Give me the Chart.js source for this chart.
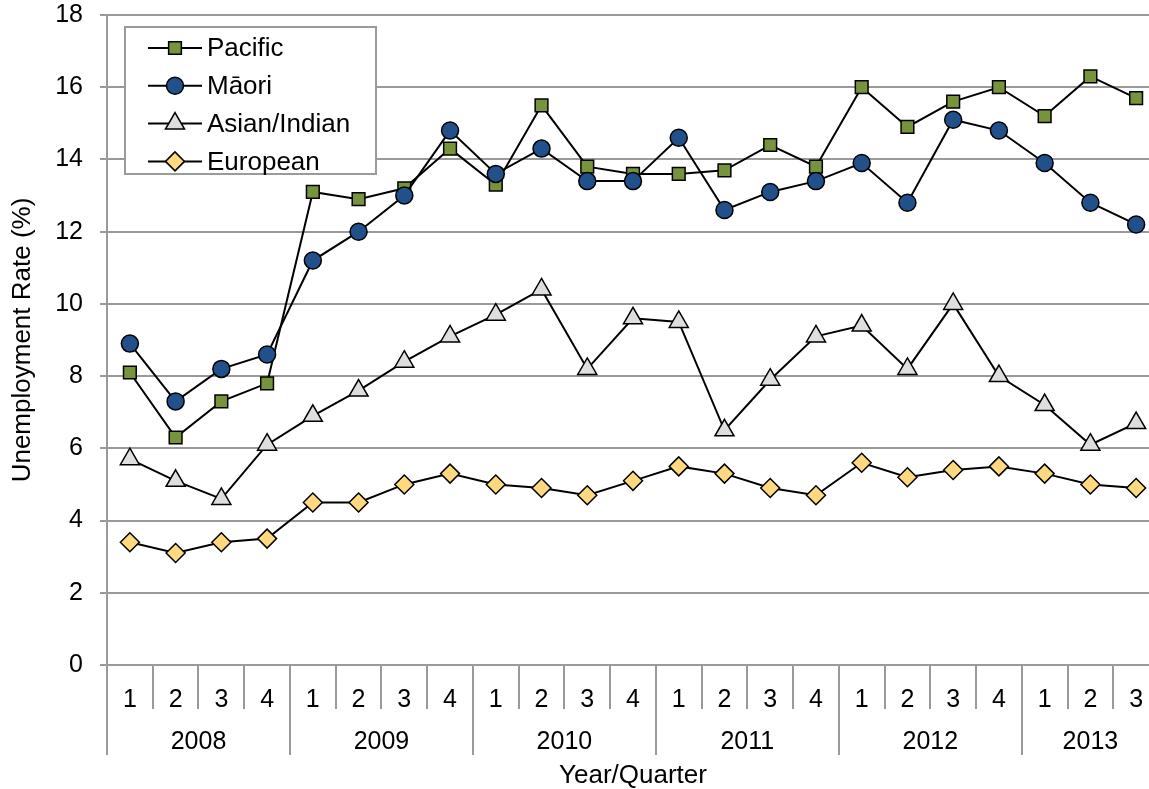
<!DOCTYPE html>
<html>
<head>
<meta charset="utf-8">
<script src="https://cdn.jsdelivr.net/npm/chart.js@4/dist/chart.umd.min.js"></script>
<style>
  html, body { margin: 0; padding: 0; background: #fff; overflow: hidden; }
  #wrap { width: 1162px; height: 789px; }
</style>
</head>
<body>
<div id="wrap"><canvas id="unemploymentChart" width="1162" height="789"></canvas></div>
<script>
// Quarter labels and the year groups they belong to
const quarters = ['1', '2', '3', '4', '1', '2', '3', '4', '1', '2', '3', '4',
                  '1', '2', '3', '4', '1', '2', '3', '4', '1', '2', '3'];
const years = ['2008', '2009', '2010', '2011', '2012', '2013'];
const quartersPerYear = [4, 4, 4, 4, 4, 3];

// Unemployment rate (%) by ethnic group
const pacific = [8.1, 6.3, 7.3, 7.8, 13.1, 12.9, 13.2, 14.3, 13.3, 15.5, 13.8, 13.6,
                 13.6, 13.7, 14.4, 13.8, 16.0, 14.9, 15.6, 16.0, 15.2, 16.3, 15.7];
const maori = [8.9, 7.3, 8.2, 8.6, 11.2, 12.0, 13.0, 14.8, 13.6, 14.3, 13.4, 13.4,
               14.6, 12.6, 13.1, 13.4, 13.9, 12.8, 15.1, 14.8, 13.9, 12.8, 12.2];
const asianIndian = [5.7, 5.1, 4.6, 6.1, 6.9, 7.6, 8.4, 9.1, 9.7, 10.4, 8.2, 9.6,
                     9.5, 6.5, 7.9, 9.1, 9.4, 8.2, 10.0, 8.0, 7.2, 6.1, 6.7];
const european = [3.4, 3.1, 3.4, 3.5, 4.5, 4.5, 5.0, 5.3, 5.0, 4.9, 4.7, 5.1,
                  5.5, 5.3, 4.9, 4.7, 5.6, 5.2, 5.4, 5.5, 5.3, 5.0, 4.9];

const FONT = "'Liberation Sans', Arial, sans-serif";
const GRID = '#9a9a9a';

Chart.defaults.font.family = FONT;
Chart.defaults.font.size = 25;
Chart.defaults.color = '#000';

function series(label, data, style, radius, fill, order) {
    return {
        label: label,
        data: data,
        borderColor: '#000',
        borderWidth: 2,
        pointStyle: style,
        pointRadius: radius,
        pointHoverRadius: radius,
        pointBackgroundColor: fill,
        pointBorderColor: '#000',
        pointBorderWidth: 1.5,
        tension: 0,
        fill: false,
        order: order
    };
}

// Year row under the quarter labels, plus the boxed legend
const yearGroups = {
    id: 'yearGroups',
    afterDraw(chart) {
        const ctx = chart.ctx;
        const x = chart.scales.x;
        const half = (x.getPixelForValue(1) - x.getPixelForValue(0)) / 2;
        const top = chart.chartArea.bottom;
        ctx.save();
        ctx.strokeStyle = GRID;
        ctx.lineWidth = 2;
        ctx.fillStyle = '#000';
        ctx.font = '25px ' + FONT;
        ctx.textAlign = 'center';
        ctx.textBaseline = 'middle';
        let start = 0;
        years.forEach((yr, i) => {
            const n = quartersPerYear[i];
            const left = x.getPixelForValue(start) - half;
            const right = x.getPixelForValue(start + n - 1) + half;
            ctx.beginPath();
            ctx.moveTo(Math.round(left), top);
            ctx.lineTo(Math.round(left), top + 90);
            ctx.stroke();
            ctx.fillText(yr, (left + right) / 2, top + 77);
            start += n;
        });
        ctx.restore();
    }
};

const legendBox = {
    id: 'legendBox',
    afterDraw(chart) {
        const ctx = chart.ctx;
        const area = chart.chartArea;
        const bx = area.left + 18, by = area.top + 12, bw = 251, bh = 147;
        ctx.save();
        ctx.fillStyle = '#fff';
        ctx.fillRect(bx, by, bw, bh);
        ctx.strokeStyle = GRID;
        ctx.lineWidth = 2;
        ctx.strokeRect(bx, by, bw, bh);
        ctx.font = '26px ' + FONT;
        ctx.textBaseline = 'middle';
        ctx.textAlign = 'left';
        chart.data.datasets.forEach((ds, i) => {
            const y = by + 21 + i * 37.8;
            ctx.strokeStyle = '#000';
            ctx.lineWidth = 2;
            ctx.beginPath();
            ctx.moveTo(bx + 23, y);
            ctx.lineTo(bx + 77, y);
            ctx.stroke();
            ctx.fillStyle = ds.pointBackgroundColor;
            ctx.strokeStyle = ds.pointBorderColor;
            ctx.lineWidth = ds.pointBorderWidth;
            Chart.helpers.drawPoint(ctx, {
                pointStyle: ds.pointStyle,
                radius: ds.pointRadius,
                borderWidth: ds.pointBorderWidth,
                rotation: 0
            }, bx + 50, y);
            ctx.fillStyle = '#000';
            ctx.fillText(ds.label, bx + 82, y + 1);
        });
        ctx.restore();
    }
};

const ctx = document.getElementById('unemploymentChart').getContext('2d');
const unemploymentChart = new Chart(ctx, {
    type: 'line',
    data: {
        labels: quarters,
        datasets: [
            series('Pacific', pacific, 'rect', 9, '#77933c', 4),
            series('Māori', maori, 'circle', 8.5, '#21508a', 3),
            series('Asian/Indian', asianIndian, 'triangle', 11, '#dfdedc', 2),
            series('European', european, 'rectRot', 9.5, '#ffd880', 1)
        ]
    },
    options: {
        responsive: false,
        animation: false,
        devicePixelRatio: 1,
        layout: { autoPadding: false, padding: { top: 0, right: 3, left: 0, bottom: 0 } },
        plugins: {
            legend: { display: false },
            tooltip: { enabled: false }
        },
        scales: {
            x: {
                offset: true,
                grid: {
                    offset: true,
                    drawOnChartArea: false,
                    drawTicks: true,
                    tickLength: 44,
                    color: GRID,
                    lineWidth: 2
                },
                border: { display: true, color: GRID, width: 2 },
                ticks: { autoSkip: false, maxRotation: 0, padding: -24 },
                title: {
                    display: true,
                    text: 'Year/Quarter',
                    font: { size: 26 },
                    padding: { top: 0, bottom: -2 }
                },
                afterFit: (scale) => {
                    scale.height = 124;
                    scale.paddingLeft = 0;
                    scale.paddingRight = 0;
                }
            },
            y: {
                min: 0,
                max: 18,
                ticks: { stepSize: 2, padding: 17 },
                grid: { color: GRID, lineWidth: 2, tickLength: 7 },
                border: { display: true, color: GRID, width: 2 },
                title: {
                    display: true,
                    text: 'Unemployment Rate (%)',
                    font: { size: 26 },
                    padding: { top: 7, bottom: 0 }
                },
                afterFit: (scale) => {
                    scale.width = 107;
                    scale.paddingTop = 15;
                    scale.paddingBottom = 0;
                }
            }
        }
    },
    plugins: [yearGroups, legendBox]
});
</script>
</body>
</html>
